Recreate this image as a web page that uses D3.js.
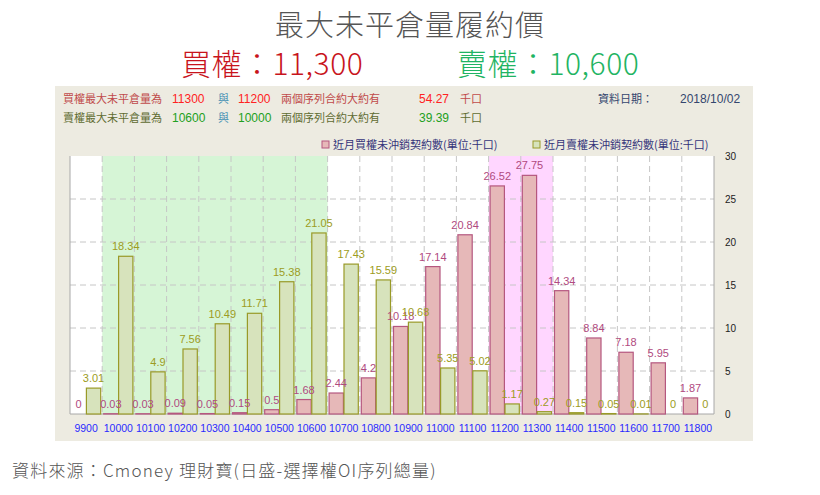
<!DOCTYPE html>
<html>
<head>
<meta charset="utf-8">
<script src="https://cdn.jsdelivr.net/npm/d3@7"></script>
<style>
  body { margin: 0; background: #fff; }
  svg { display: block; }
</style>
</head>
<body>
<div id="chart"></div>
<script>
// strike prices
const strikes = ["9900", "10000", "10100", "10200", "10300", "10400", "10500", "10600", "10700", "10800",
  "10900", "11000", "11100", "11200", "11300", "11400", "11500", "11600", "11700", "11800"];
// 近月買權未沖銷契約數 (千口)
const callOI = [0, 0.03, 0.03, 0.09, 0.05, 0.15, 0.5, 1.68, 2.44, 4.2,
  10.18, 17.14, 20.84, 26.52, 27.75, 14.34, 8.84, 7.18, 5.95, 1.87];
// 近月賣權未沖銷契約數 (千口)
const putOI = [3.01, 18.34, 4.9, 7.56, 10.49, 11.71, 15.38, 21.05, 17.43, 15.59,
  10.68, 5.35, 5.02, 1.17, 0.27, 0.15, 0.05, 0.01, 0, 0];
const yTicks = [0, 5, 10, 15, 20, 25, 30];
const callRange = ["11200", "11300"];
const putRange = ["10000", "10600"];

const W = 820, H = 495;
const plot = { left: 70, right: 714, top: 156, bottom: 414 };

const svg = d3.select("#chart")
    .append("svg")
    .attr("width", W)
    .attr("height", H);

// titles
svg.append("text")
    .attr("x", 410).attr("y", 36)
    .attr("text-anchor", "middle")
    .attr("font-family", "'Noto Sans CJK TC'")
    .attr("font-size", 29)
    .attr("font-weight", 300)
    .attr("letter-spacing", 1)
    .attr("fill", "#555")
    .text("最大未平倉量履約價");
svg.append("text")
    .attr("x", 181).attr("y", 75)
    .attr("font-family", "'Noto Sans CJK TC'")
    .attr("font-size", 30)
    .attr("font-weight", 300)
    .attr("letter-spacing", 0.5)
    .attr("fill", "#c8141c")
    .text("買權：11,300");
svg.append("text")
    .attr("x", 457).attr("y", 75)
    .attr("font-family", "'Noto Sans CJK TC'")
    .attr("font-size", 30)
    .attr("font-weight", 300)
    .attr("letter-spacing", 0.5)
    .attr("fill", "#1fb463")
    .text("賣權：10,600");

// beige panel
svg.append("rect")
    .attr("x", 55).attr("y", 86)
    .attr("width", 698).attr("height", 355)
    .attr("fill", "#edebe1");

// header info rows (CJK text a bit smaller than the numbers)
const info = svg.append("g")
    .attr("font-family", "'Liberation Sans','Noto Sans CJK TC'");
const row = (y, items) => items.forEach(([x, t, c, a]) => {
    info.append("text").attr("x", x).attr("y", y)
        .attr("font-size", /\d/.test(t) ? 12 : 11)
        .attr("fill", c).attr("text-anchor", a || "start").text(t);
});
row(103, [[63, "買權最大未平倉量為", "#c04a4a"], [172, "11300", "#ff2222"], [218, "與", "#4a93b5"],
  [238, "11200", "#ff2222"], [281, "兩個序列合約大約有", "#c04a4a"], [449, "54.27", "#ff2222", "end"],
  [460, "千口", "#c04a4a"], [598, "資料日期：", "#34466e"], [680, "2018/10/02", "#34466e"]]);
row(122, [[63, "賣權最大未平倉量為", "#5f6b31"], [172, "10600", "#22a022"], [218, "與", "#4a93b5"],
  [238, "10000", "#22a022"], [281, "兩個序列合約大約有", "#5f6b31"], [449, "39.39", "#22a022", "end"],
  [460, "千口", "#5f6b31"]]);

// legend
const legend = [["近月買權未沖銷契約數(單位:千口)", "#e6b8b8", "#b5577f", 322],
  ["近月賣權未沖銷契約數(單位:千口)", "#d7e3bc", "#999a28", 533]];
legend.forEach(([t, f, s, x]) => {
    svg.append("rect").attr("x", x).attr("y", 141).attr("width", 7).attr("height", 7)
        .attr("fill", f).attr("stroke", s);
    svg.append("text").attr("x", x + 11).attr("y", 149)
        .attr("font-family", "'Noto Sans CJK TC'").attr("font-size", 11)
        .attr("fill", "#34347a").text(t);
});

// scales
const x = d3.scaleBand()
    .domain(strikes)
    .range([plot.left, plot.right]);
const bw = x.bandwidth();
const xSub = d3.scaleBand()
    .domain(["call", "put"])
    .range([1.5, bw - 1.5])
    .paddingInner(0.04);
const y = d3.scaleLinear()
    .domain([0, 30])
    .range([plot.bottom, plot.top]);

// plot area + highlighted ranges
svg.append("rect")
    .attr("x", plot.left).attr("y", plot.top)
    .attr("width", plot.right - plot.left).attr("height", plot.bottom - plot.top)
    .attr("fill", "#fff");
svg.append("rect")
    .attr("x", x(putRange[0])).attr("y", plot.top)
    .attr("width", x(putRange[1]) + bw - x(putRange[0])).attr("height", plot.bottom - plot.top)
    .attr("fill", "#d6f5d6");
svg.append("rect")
    .attr("x", x(callRange[0])).attr("y", plot.top)
    .attr("width", x(callRange[1]) + bw - x(callRange[0])).attr("height", plot.bottom - plot.top)
    .attr("fill", "#ffd6ff");

// grid
const grid = svg.append("g")
    .attr("stroke", "#c6c6c6")
    .attr("stroke-dasharray", "6,4");
grid.selectAll(".vg")
    .data(strikes.slice(1))
    .join("line")
    .attr("x1", d => x(d)).attr("x2", d => x(d))
    .attr("y1", plot.top).attr("y2", plot.bottom);
grid.selectAll(".hg")
    .data(yTicks.slice(1, -1))
    .join("line")
    .attr("x1", plot.left).attr("x2", plot.right)
    .attr("y1", d => y(d)).attr("y2", d => y(d));

// border
svg.append("path")
    .attr("d", `M${plot.left},${plot.top}V${plot.bottom}H${plot.right}V${plot.top}`)
    .attr("fill", "none")
    .attr("stroke", "#a8a8a8");

// bars
const series = [
    { key: "call", vals: callOI, fill: "#e6b8b8", stroke: "#b5577f", text: "#b04a80" },
    { key: "put", vals: putOI, fill: "#d7e3bc", stroke: "#999a28", text: "#9c9c22" }
];
series.forEach(s => {
    const data = strikes.map((k, i) => ({ k: k, v: s.vals[i] }));
    svg.append("g").selectAll("rect")
        .data(data)
        .join("rect")
        .attr("x", d => x(d.k) + xSub(s.key))
        .attr("y", d => y(d.v))
        .attr("width", xSub.bandwidth())
        .attr("height", d => y(0) - y(d.v))
        .attr("fill", s.fill)
        .attr("stroke", s.stroke)
        .attr("stroke-width", 1.2);
});
series.forEach(s => {
    const data = strikes.map((k, i) => ({ k: k, v: s.vals[i] }));
    svg.append("g").selectAll("text")
        .data(data)
        .join("text")
        .attr("x", d => x(d.k) + xSub(s.key) + xSub.bandwidth() / 2)
        .attr("y", d => y(d.v) - 6)
        .attr("text-anchor", "middle")
        .attr("font-family", "'Liberation Sans'")
        .attr("font-size", 11)
        .attr("fill", s.text)
        .text(d => String(d.v));
});

// x axis labels
svg.append("g")
    .attr("transform", `translate(0,${plot.bottom})`)
    .call(d3.axisBottom(x).tickSize(0).tickPadding(11))
    .call(g => g.select(".domain").remove())
    .selectAll("text")
    .attr("font-family", "'Liberation Sans'")
    .attr("font-size", 10.5)
    .attr("fill", "#2a2aff");

// right axis
svg.append("g")
    .attr("transform", `translate(${plot.right},0)`)
    .call(d3.axisRight(y).tickValues(yTicks).tickSize(0).tickPadding(11))
    .call(g => g.select(".domain").remove())
    .selectAll("text")
    .attr("font-family", "'Liberation Sans'")
    .attr("font-size", 10)
    .attr("fill", "#222");

// source note
svg.append("text")
    .attr("x", 12).attr("y", 477)
    .attr("font-family", "'Noto Sans CJK TC'")
    .attr("font-size", 17)
    .attr("font-weight", 300)
    .attr("letter-spacing", 1.2)
    .attr("fill", "#555")
    .text("資料來源：Cmoney 理財寶(日盛-選擇權OI序列總量)");
</script>
</body>
</html>
